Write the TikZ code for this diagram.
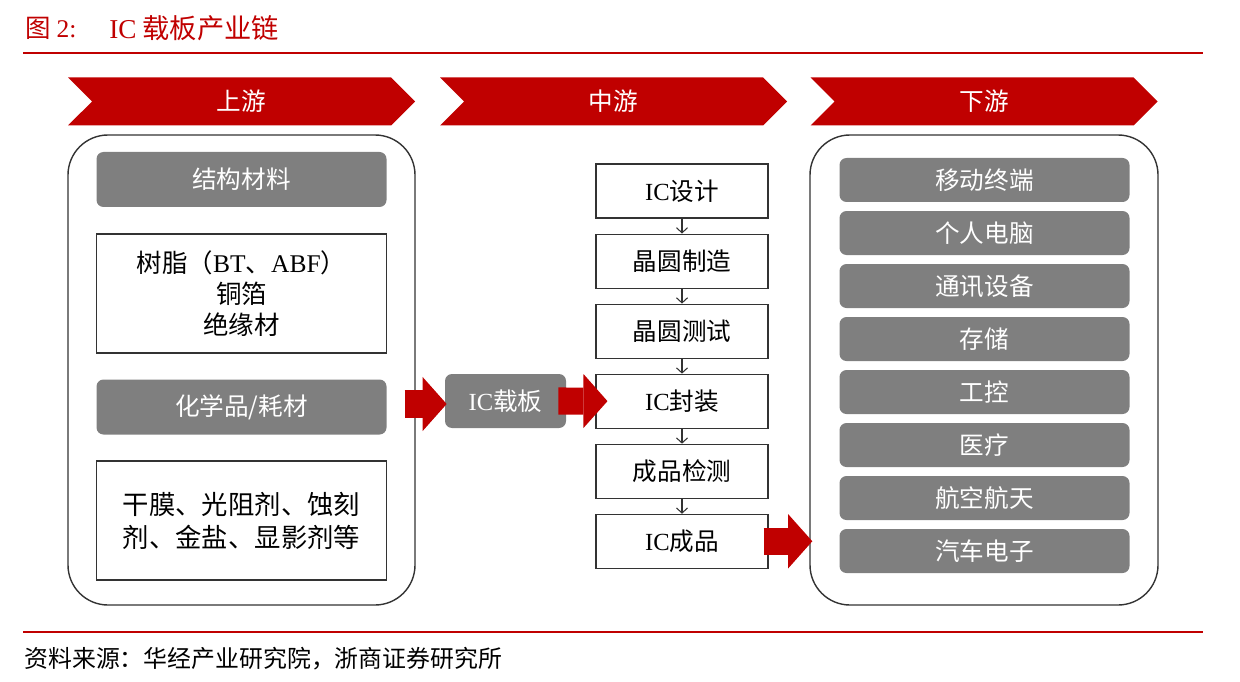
\documentclass[tikz,border=0pt]{standalone}
\usepackage{fontspec}
\setmainfont{Noto Sans CJK SC}
\newfontfamily\lat{Liberation Serif}
\usetikzlibrary{shapes.symbols,arrows.meta,positioning,calc}
\definecolor{zsred}{HTML}{C00000}
\definecolor{boxgray}{HTML}{7F7F7F}
\definecolor{framegray}{HTML}{333333}
\newdimen\pxu \pxu=0.02cm

\begin{document}
\begin{tikzpicture}[x=0.02cm, y=-0.02cm,
  banner/.style={signal, signal from=west, signal to=east, signal pointer angle=90,
    fill=zsred, text=white, minimum width=347\pxu, minimum height=48\pxu, inner sep=0pt,
    font=\fontsize{14}{17}\selectfont},
  frame/.style={draw=framegray, line width=0.8pt, rounded corners=40\pxu,
    minimum width=347\pxu, minimum height=470\pxu, inner sep=0pt},
  graybox/.style={fill=boxgray, text=white, rounded corners=7\pxu,
    minimum width=290\pxu, minimum height=55\pxu, inner sep=0pt,
    font=\fontsize{14}{17}\selectfont},
  itembox/.style={graybox, minimum height=44\pxu},
  textbox/.style={draw=framegray, line width=0.6pt, minimum width=290\pxu,
    minimum height=119\pxu, align=center, inner sep=0pt},
  stepbox/.style={draw=framegray, line width=0.6pt, minimum width=172\pxu,
    minimum height=54\pxu, inner sep=0pt, font=\fontsize{14}{17}\selectfont},
  flow/.style={draw=framegray, line width=0.6pt, -{Straight Barb[length=2.9pt, width=6.3pt]}},
  bigarrow/.style={draw=zsred, line width=15.4pt,
    -{Triangle[length=13.7pt, width=30.8pt, line width=0pt]}},
  rule/.style={draw=zsred, line width=0.8pt}
  ]
  \useasboundingbox (0,0) rectangle (1240,682);

  % title and rules
  \node[anchor=west, text=zsred, inner sep=0pt, font=\fontsize{14.5}{17}\selectfont]
    (fig) at (25,28) {图 {\lat 2:}};
  \node[anchor=west, text=zsred, inner sep=0pt, font=\fontsize{15.5}{18}\selectfont]
    (title) at (109,28) {{\lat IC} 载板产业链};
  \draw[rule] (23,53) -- (1203,53);
  \draw[rule] (23,632) -- (1203,632);
  \node[anchor=west, inner sep=0pt, font=\fontsize{13.6}{16}\selectfont]
    (source) at (24,659) {资料来源：华经产业研究院，浙商证券研究所};

  % banners
  \node[banner] (up) at (241.5,101.5) {上游};
  \node[banner] (mid) at (613.5,101.5) {中游};
  \node[banner] (down) at (984,101.5) {下游};

  % upstream
  \node[frame] (upbox) at (241.5,370) {};
  \node[graybox] (struct) at (241.5,179.5) {结构材料};
  \node[textbox, font=\fontsize{14.5}{17.6}\selectfont] (structlist) at (241.5,293.5)
    {树脂（{\lat BT}、{\lat ABF}）\\铜箔\\绝缘材};
  \node[graybox] (chem) at (241.5,407) {化学品/耗材};
  \node[textbox, font=\fontsize{15}{18.8}\selectfont] (chemlist) at (241.5,520.5)
    {干膜、光阻剂、蚀刻\\剂、金盐、显影剂等};

  % midstream
  \node[graybox, minimum width=121\pxu, minimum height=54\pxu] (icsub) at (505.5,401)
    {{\lat IC}载板};
  \node[stepbox] (m1) at (682,191) {{\lat IC}设计};
  \node[stepbox, below=15\pxu of m1] (m2) {晶圆制造};
  \node[stepbox, below=15\pxu of m2] (m3) {晶圆测试};
  \node[stepbox, below=15\pxu of m3] (m4) {{\lat IC}封装};
  \node[stepbox, below=15\pxu of m4] (m5) {成品检测};
  \node[stepbox, below=15\pxu of m5] (m6) {{\lat IC}成品};
  \draw[flow] (m1) -- (m2);
  \draw[flow] (m2) -- (m3);
  \draw[flow] (m3) -- (m4);
  \draw[flow] (m4) -- (m5);
  \draw[flow] (m5) -- (m6);

  % downstream
  \node[frame, minimum width=348\pxu] (downbox) at (984,370) {};
  \node[itembox] (d1) at (984.5,180) {移动终端};
  \node[itembox, below=8.3\pxu of d1] (d2) {个人电脑};
  \node[itembox, below=8.3\pxu of d2] (d3) {通讯设备};
  \node[itembox, below=8.3\pxu of d3] (d4) {存储};
  \node[itembox, below=8.3\pxu of d4] (d5) {工控};
  \node[itembox, below=8.3\pxu of d5] (d6) {医疗};
  \node[itembox, below=8.3\pxu of d6] (d7) {航空航天};
  \node[itembox, below=8.3\pxu of d7] (d8) {汽车电子};

  % big red arrows
  \draw[bigarrow] ($(upbox.east |- icsub)+(-11,3)$) -- ($(icsub.west)+(2,3)$);
  \draw[bigarrow] ($(icsub.east)+(-8,0)$) -- ($(m4.west)+(12,0)$);
  \draw[bigarrow] ($(m6.east)+(-5,0)$) -- ($(downbox.west |- m6)+(3,0)$);
\end{tikzpicture}
\end{document}
